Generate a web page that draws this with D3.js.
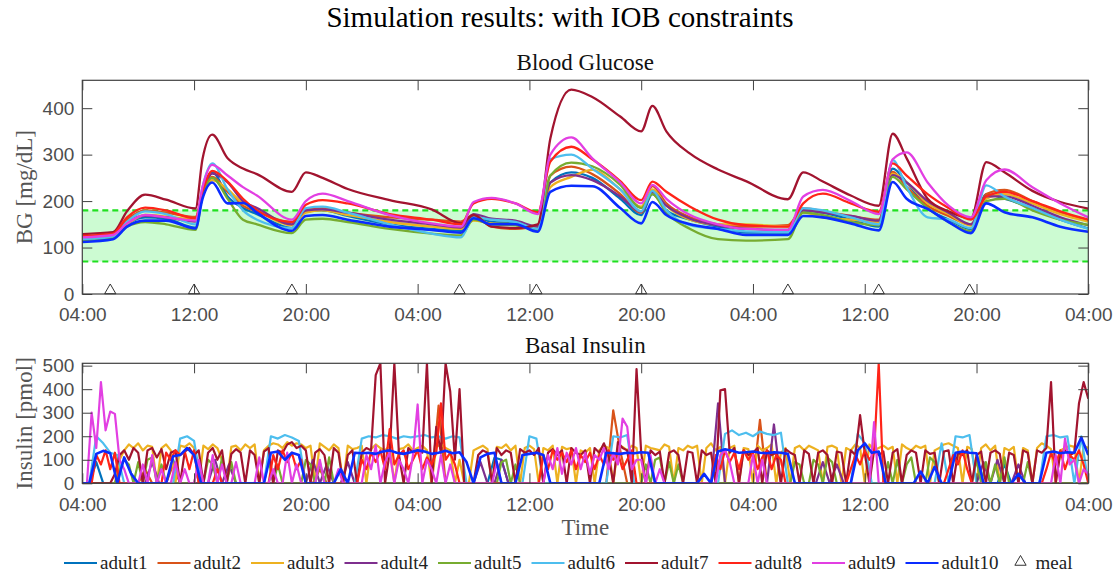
<!DOCTYPE html>
<html>
<head>
<meta charset="utf-8">
<script src="https://cdn.jsdelivr.net/npm/d3@7"></script>
<style>
  body { margin: 0; background: #fff; }
  .tick text { font-family: "Liberation Sans", Arial, sans-serif; font-size: 19px; fill: #4d4d4d; }
  .tick line { stroke: #404040; }
</style>
</head>
<body>
<script>
// ---- data ----
let names = ["adult1","adult2","adult3","adult4","adult5","adult6","adult7","adult8","adult9","adult10"];
let colors = ["#0072BD","#D95319","#EDB120","#7E2F8E","#77AC30","#4DBEEE","#A2142F","#FF2418","#E23FE2","#0A2CFF"];

// hours since 04:00 on day 1
let tickHours = [0, 8, 16, 24, 32, 40, 48, 56, 64, 72];
let tickLabels = ["04:00","12:00","20:00","04:00","12:00","20:00","04:00","12:00","20:00","04:00"];
let mealHours = [2, 8, 15, 27, 32.5, 40, 50.5, 57, 63.5];

// blood glucose sample times (h) and values (mg/dL)
let bgTimes = [0, 2.2, 3.2, 4.5, 6, 8.1, 8.6, 9.3, 10.4, 11.5, 12.5, 15.0, 16.0, 17.2, 19, 22, 25, 27.1, 28.0, 29.3,
  31, 32.6, 33.5, 35.0, 36.5, 38.5, 40.0, 40.8, 41.8, 43.5, 45.5, 47.5, 50.5, 51.6, 53.0, 55.0, 57.0, 58.0, 59.0, 60.5,
  62.0, 63.6, 64.7, 66.0, 68.0, 70.0, 72.0];
let bg1 = [114,120,150,165,162, 143,220,263,210,185, 172,142,178,180,168, 150,140,136,168,155, 152,140,240,262,250,
  205,170,215,180,160, 145,132,132,180,175, 160,145,270,240,185, 160,140,215,205,185, 160,141];
let bg2 = [124,129,160,180,175, 166,215,252,220,190, 178,154,182,184,175, 165,160,156,170,145, 140,148,255,274,258,
  215,175,232,195,165, 150,145,148,185,178, 168,160,263,230,190, 168,150,215,224,200, 175,159];
let bg3 = [120,126,150,170,167, 160,210,245,225,195, 180,148,175,180,170, 155,145,140,158,152, 150,142,230,252,267,
  225,188,225,190,160, 150,150,145,175,165, 160,155,259,240,195, 172,147,205,215,195, 172,156];
let bg4 = [121,127,155,168,165, 156,215,259,240,200, 185,150,180,182,175, 160,150,143,172,162, 158,145,240,256,245,
  210,177,220,190,162, 148,140,138,180,175, 168,158,256,240,200, 175,150,210,210,190, 165,148];
let bg5 = [116,121,145,155,150, 138,210,250,205,160, 150,131,160,162,155, 140,130,126,160,150, 148,138,255,283,275,
  235,185,215,175,140, 118,115,118,175,170, 155,148,252,225,185, 155,135,200,205,180, 160,149];
let bg6 = [118,124,155,178,172, 150,230,281,225,180, 160,142,185,188,175, 150,130,122,165,160, 155,140,290,300,270,
  225,178,222,180,148, 140,135,133,185,180, 165,150,288,230,165, 160,142,234,210,185, 160,140];
let bg7 = [129,133,178,214,203, 184,290,343,292,270, 258,220,262,250,226, 202,182,152,170,145, 142,150,335,440,424,
  382,350,405,350,302, 268,243,204,262,242, 212,190,345,292,205, 178,163,284,262,222, 198,184];
let bg8 = [125,130,165,186,180, 163,220,265,242,205, 180,155,192,202,195, 172,160,150,195,205, 195,176,285,317,290,
  243,202,242,220,188, 160,148,145,195,216, 195,177,281,255,215, 185,160,210,220,200, 178,160];
let bg9 = [122,127,152,170,165, 158,230,278,255,230, 212,160,200,216,200, 170,152,145,198,207, 195,172,300,337,292,
  240,195,235,205,170, 150,140,138,210,224, 200,172,290,305,240, 190,165,245,268,230, 195,165];
let bg10 = [112,118,145,158,158, 141,205,240,195,196, 175,136,168,170,160, 145,138,132,163,150, 150,134,220,233,232,
  185,152,198,170,150, 140,127,127,168,165, 152,137,241,205,183, 155,131,195,176,165, 145,134];

// basal insulin (pmol) from 04:00; 30-min samples (145 values)
let ins1 = [0,0,90,0,0,0,0,0, 0,0,0,0,0,100,0,0, 0,0,0,0,0,0,0,0, 0,0,0,0,0,0,0,0, 0,0,0,0,0,0,0,0, 0,0,0,0,0,0,0,0,
  0,0,0,0,0,0,0,0, 0,0,0,110,100,0,0,0, 0,0,0,0,0,0,0,0, 0,0,0,0,0,0,0,0, 0,0,0,0,0,0,0,0, 0,0,0,0,0,0,0,0,
  0,0,0,0,0,0,0,0, 0,0,0,0,0,0,0,0, 0,0,0,0,0,0,0,0, 0,0,0,0,0,0,0,0, 0,0,0,0,80,0,0,0, 0,0,0,0,0,0,0,0, 0];
let ins2 = [0,0,0,0,0,0,0,0, 0,60,0,0,0,80,0,0, 0,0,0,0,0,0,0,0, 0,0,0,0,0,0,0,0, 0,0,60,0,0,0,0,0, 0,0,0,0,0,0,0,0,
  0,0,0,330,0,0,0,0, 0,0,0,0,0,0,0,0, 0,0,0,0,0,0,0,0, 0,0,0,0,310,140,0,0, 0,0,0,0,0,0,0,0, 0,0,0,0,0,0,0,0,
  0,270,0,0,0,0,0,0, 0,0,0,0,0,0,0,0, 0,0,0,0,0,0,0,0, 0,0,0,0,0,0,0,0, 0,0,0,0,0,0,0,0, 0,0,0,0,0,0,0,0, 0];
let ins4 = [0,0,0,0,0,0,0,0, 0,0,90,0,0,0,0,0, 0,0,0,100,0,80,0,0, 0,0,0,0,0,0,0,0, 0,100,0,80,0,0,90,0, 0,0,0,0,0,0,0,0,
  0,0,0,0,0,0,0,0, 0,90,0,0,100,0,0,0, 0,0,0,0,0,0,0,0, 0,0,0,0,0,0,0,0, 0,0,0,0,0,0,0,0, 0,0,0,340,0,0,0,0,
  0,0,0,250,0,0,0,0, 0,0,90,0,80,0,0,0, 0,0,0,0,0,0,0,0, 0,0,0,0,0,0,0,0, 0,90,0,100,0,0,80,0, 0,0,0,0,0,0,0,0, 0];
let ins6 = [0,0,200,170,130,120,0,0, 0,0,0,0,0,0,190,200, 180,0,0,0,0,0,0,0, 0,0,0,200,190,205,195,180, 0,0,0,0,0,0,0,0,
  190,200,195,205,200,190,200,195, 200,205,195,200,190,200,195,0, 0,0,0,0,0,0,0,0, 200,190,0,0,0,0,0,0,
  0,0,0,0,200,195,205,0, 0,0,0,0,0,0,0,0, 0,0,0,0,210,225,205,215, 200,220,210,205,215,0,0,0, 0,0,0,0,0,0,0,210,
  170,0,0,0,0,0,0,0, 0,0,0,170,0,200,195,205, 0,0,0,0,0,0,0,0, 0,0,200,205,195,200,0,200, 0];
let ins10 = [0,0,125,138,128,0,110,40, 0,0,0,0,0,115,120,150, 120,0,0,0,0,0,0,0, 0,0,0,130,135,100,130,120, 0,0,0,0,0,60,0,130,
  128,130,125,135,140,130,125,132, 140,135,125,130,138,128,132,90, 0,110,125,130,0,0,0,120, 125,130,120,0,0,0,0,0,
  0,0,0,130,128,125,130,128, 132,130,0,0,0,0,0,0, 0,40,0,135,145,138,130,132, 135,130,128,132,130,125,0,0,
  0,0,0,0,0,0,0,140, 170,130,135,0,0,0,0,0, 50,0,70,0,0,130,135,130, 128,0,0,0,0,0,40,0, 0,0,130,135,128,132,130,195, 120];

// 20-min samples (217 values)
let ins3 = [0,0,0,0,0,0,0,0,100,140,165,150, 170,140,160,155,0,150,165,140,0,160,155,170,
  150,0,160,145,165,150,100,0,155,160,140,165, 150,165,0,140,160,170,165,150,175,160,170,165,
  150,160,0,170,155,140,165,150,0,160,145,150, 160,0,145,165,150,140,160,0,145,150,165,140,
  150,160,140,0,155,165,150,140,0,100,0,0, 140,150,160,145,0,155,150,165,140,160,0,150,
  160,145,0,150,140,160,0,155,145,150,0,140, 130,150,0,140,160,150,0,150,155,140,160,150,
  0,160,150,145,140,165,155,0,150,140,160,150, 160,0,150,170,140,155,0,150,160,0,150,145,
  0,160,140,150,165,0,130,150,0,150,160,140, 160,150,140,0,155,160,150,0,150,140,165,150,
  0,165,140,150,160,145,155,0,165,150,140,160, 150,160,0,140,150,165,170,160,150,0,155,145,
  0,150,165,140,160,0,150,140,155,0,150,140, 0,150,170,160,145,0,140,150,160,155,0,160, 150];
let ins5 = [0,0,0,0,0,0,0,0,60,100,80,0, 90,0,100,110,0,80,0,0,0,0,0,0, 0,90,0,100,80,0,110,0,90,0,0,0,
  0,0,0,0,100,0,80,0,0,0,0,0, 100,80,0,90,0,110,0,0,0,0,0,0, 0,0,0,0,0,0,0,0,0,0,0,0,
  0,0,0,0,0,0,0,0,0,0,0,0, 0,0,0,0,0,0,90,100,0,80,0,0, 0,0,0,0,0,0,0,0,0,0,0,0,
  0,0,0,0,0,0,0,0,0,0,0,0, 0,80,0,100,110,0,90,0,80,0,0,0, 0,0,0,0,0,0,0,0,0,0,0,0,
  0,0,0,0,0,0,0,0,0,90,80,0, 0,100,80,0,110,90,0,0,0,0,0,0, 0,0,0,0,0,90,0,100,0,80,110,0,
  0,0,110,90,0,0,0,0,0,0,0,0, 100,0,90,0,80,0,110,0,0,0,0,90, 0,0,0,0,0,0,0,0,0,0,0,0, 0];
let ins7 = [0,0,0,0,0,0,0,40,120,140,100,150, 130,0,140,150,110,145,60,130,140,0,135,150,
  120,140,0,130,150,100,140,0,125,145,130,0, 140,120,0,135,150,0,140,130,165,175,150,160,
  140,0,130,145,120,0,150,130,0,120,140,0, 130,150,140,460,510,0,130,510,120,0,150,130,
  140,130,510,0,240,130,510,390,100,400,0,0, 0,120,140,130,0,150,120,140,130,0,145,130,
  140,120,150,0,130,145,120,140,0,150,130,120, 140,0,150,130,170,120,0,175,150,140,0,485,
  130,0,140,120,135,0,130,140,120,0,135,130, 0,140,120,130,0,395,400,130,150,0,140,120,
  130,150,0,140,120,130,0,145,130,120,0,140, 125,0,130,140,120,0,135,130,0,140,120,290,
  130,0,140,120,135,0,130,145,0,120,140,130, 0,140,125,130,0,135,140,0,130,120,140,0,
  120,135,0,130,140,125,0,130,120,0,140,130, 0,140,130,150,430,0,130,140,120,130,340,430, 360];
let ins8 = [0,0,0,120,80,140,60,130,0,0,0,0, 0,0,0,0,0,0,130,100,140,120,135,60, 140,0,0,0,0,60,0,0,0,0,0,0,
  0,0,0,0,0,120,60,140,90,130,60,100, 0,0,0,0,0,0,0,0,0,0,0,0, 100,60,130,90,140,60,230,80,120,140,60,100,
  140,60,110,80,130,340,100,130,80,0,0,0, 0,0,0,0,0,0,0,0,0,0,0,0, 0,0,0,120,60,140,100,130,90,140,60,120,
  90,130,60,120,80,140,100,130,60,100,140,0, 0,0,0,0,0,0,0,0,0,0,0,0, 0,0,0,0,120,60,140,90,130,60,140,100,
  130,60,110,140,60,120,100,0,0,0,0,0, 0,0,0,0,0,0,0,0,0,60,120,80, 140,100,130,510,0,0,0,0,0,0,0,0,
  0,0,0,0,0,0,60,120,80,140,60,0, 0,0,0,0,0,0,0,0,0,0,0,0, 0,0,0,60,130,80,140,60,120,100,140,80, 0];
let ins9 = [0,0,300,150,430,225,305,295,100,60,0,0, 0,80,0,120,0,60,0,0,90,0,60,0, 0,100,0,0,120,0,80,0,0,90,0,0,
  0,0,110,0,0,60,0,0,130,0,80,0, 0,0,0,100,0,0,0,60,0,0,0,0, 0,120,60,160,0,90,130,0,100,60,0,120,
  335,0,100,60,0,120,0,80,0,0,0,0, 0,0,0,0,0,90,0,0,0,0,0,0, 0,0,0,0,120,60,150,40,130,80,150,60,
  130,40,120,100,150,60,130,80,275,240,60,100, 100,0,120,0,60,0,0,0,0,0,0,0, 0,0,0,0,0,120,140,90,0,0,0,0,
  120,0,100,0,0,0,0,0,0,0,0,0, 0,0,0,0,0,0,0,0,0,0,0,0, 0,0,260,0,0,0,0,0,0,0,0,0,
  0,0,0,0,0,0,0,0,0,0,0,0, 0,0,0,0,0,0,0,0,0,0,0,0, 0,0,0,0,0,120,0,190,80,100,0,60, 40];

let bgSeries = [bg1, bg2, bg3, bg4, bg5, bg6, bg7, bg8, bg9, bg10];
let insSeries = [ins1, ins2, ins3, ins4, ins5, ins6, ins7, ins8, ins9, ins10];
let insStep = [0.5, 0.5, 1/3, 0.5, 1/3, 0.5, 1/3, 1/3, 1/3, 0.5];   // hours between samples

// ---- layout ----
let width = 1119, height = 577;
let left = 82.3, right = 1088.3;
let serif = "'Liberation Serif', 'Times New Roman', serif";

let svg = d3.select("body").append("svg")
    .attr("width", width)
    .attr("height", height);

let xScale = d3.scaleLinear().domain([0, 72]).range([left, right]);
let bgScale = d3.scaleLinear().domain([0, 460]).range([294, 80.3]);
let insScale = d3.scaleLinear().domain([0, 510]).range([483.3, 363.3]);

// title
svg.append("text")
    .attr("x", 560).attr("y", 27)
    .attr("text-anchor", "middle")
    .style("font-family", serif).style("font-size", "29px").style("fill", "#000")
    .text("Simulation results: with IOB constraints");

function drawAxes(yScale, yTicks, top, bottom, title, titleY, ylabel) {
	let fmt = function(d, i) { return tickLabels[i]; };
	svg.append("g").attr("transform", "translate(0," + bottom + ")")
		.call(d3.axisBottom(xScale).tickValues(tickHours).tickFormat(fmt).tickSizeInner(-10).tickSizeOuter(0).tickPadding(14))
		.call(g => g.select(".domain").remove());
	svg.append("g").attr("transform", "translate(0," + top + ")")
		.call(d3.axisTop(xScale).tickValues(tickHours).tickFormat("").tickSizeInner(-10).tickSizeOuter(0))
		.call(g => g.select(".domain").remove());
	svg.append("g").attr("transform", "translate(" + left + ",0)")
		.call(d3.axisLeft(yScale).tickValues(yTicks).tickSizeInner(-10).tickSizeOuter(0).tickPadding(8))
		.call(g => g.select(".domain").remove());
	svg.append("g").attr("transform", "translate(" + right + ",0)")
		.call(d3.axisRight(yScale).tickValues(yTicks).tickFormat("").tickSizeInner(-10).tickSizeOuter(0))
		.call(g => g.select(".domain").remove());
	svg.append("rect")
		.attr("x", left).attr("y", top)
		.attr("width", right - left).attr("height", bottom - top)
		.attr("fill", "none").attr("stroke", "#404040").attr("stroke-width", 1.2);
	svg.append("text")
		.attr("x", (left + right) / 2).attr("y", titleY)
		.attr("text-anchor", "middle")
		.style("font-family", serif).style("font-size", "23px").style("fill", "#111")
		.text(title);
	svg.append("text")
		.attr("transform", "translate(32," + ((top + bottom) / 2) + ") rotate(-90)")
		.attr("text-anchor", "middle")
		.style("font-family", serif).style("font-size", "23px").style("fill", "#555")
		.text(ylabel);
}

// clip paths
let defs = svg.append("defs");
defs.append("clipPath").attr("id", "clipBG").append("rect")
	.attr("x", left).attr("y", 80.3).attr("width", right - left).attr("height", 294 - 80.3);
defs.append("clipPath").attr("id", "clipIns").append("rect")
	.attr("x", left).attr("y", 363.3).attr("width", right - left).attr("height", 483.3 - 363.3);

// ---- Blood glucose panel ----
let bgPanel = svg.append("g").attr("clip-path", "url(#clipBG)");

bgPanel.append("rect")
	.attr("x", left).attr("y", bgScale(180))
	.attr("width", right - left).attr("height", bgScale(70) - bgScale(180))
	.attr("fill", "#ccfbd2");

[70, 180].forEach(function(v) {
	bgPanel.append("line")
		.attr("x1", left).attr("x2", right)
		.attr("y1", bgScale(v)).attr("y2", bgScale(v))
		.attr("stroke", "#1fe01f").attr("stroke-width", 2.2)
		.attr("stroke-dasharray", "6,4");
});

let bgLine = d3.line()
	.curve(d3.curveMonotoneX)
	.x(function(d, i) { return xScale(bgTimes[i]); })
	.y(function(d) { return bgScale(d); });

bgSeries.forEach(function(s, k) {
	bgPanel.append("path")
		.datum(s)
		.attr("fill", "none")
		.attr("stroke", colors[k])
		.attr("stroke-width", k == 9 ? 2.6 : 2.3)
		.attr("d", bgLine);
});

drawAxes(bgScale, [0, 100, 200, 300, 400], 80.3, 294, "Blood Glucose", 70, "BG [mg/dL]");

// meal markers
let tri = d3.symbol().type(d3.symbolTriangle).size(55);
svg.selectAll(".meal")
	.data(mealHours)
	.enter().append("path")
		.attr("class", "meal")
		.attr("transform", function(d) { return "translate(" + xScale(d) + "," + 290.5 + ")"; })
		.attr("d", tri)
		.attr("fill", "none")
		.attr("stroke", "#333")
		.attr("stroke-width", 1);

// ---- Basal insulin panel ----
let insPanel = svg.append("g").attr("clip-path", "url(#clipIns)");

insSeries.forEach(function(s, k) {
	let insLine = d3.line()
		.x(function(d, i) { return xScale(i * insStep[k]); })
		.y(function(d) { return insScale(d); });
	insPanel.append("path")
		.datum(s)
		.attr("fill", "none")
		.attr("stroke", colors[k])
		.attr("stroke-width", k == 9 ? 2.6 : 2.2)
		.attr("stroke-linejoin", "round")
		.attr("d", insLine);
});

drawAxes(insScale, [0, 100, 200, 300, 400, 500], 363.3, 483.3, "Basal Insulin", 353, "Insulin [pmol]");

svg.append("text")
	.attr("x", (left + right) / 2).attr("y", 535)
	.attr("text-anchor", "middle")
	.style("font-family", serif).style("font-size", "23px").style("fill", "#555")
	.text("Time");

// ---- legend ----
let legend = svg.append("g");
let lx = 64;
names.forEach(function(n, k) {
	legend.append("line")
		.attr("x1", lx).attr("x2", lx + 33)
		.attr("y1", 563).attr("y2", 563)
		.attr("stroke", colors[k]).attr("stroke-width", 2);
	let t = legend.append("text")
		.attr("x", lx + 36).attr("y", 569)
		.style("font-family", serif).style("font-size", "19px").style("fill", "#222")
		.text(n);
	lx += 36 + t.node().getComputedTextLength() + 10;
});
legend.append("path")
	.attr("transform", "translate(" + (lx + 12) + ",562)")
	.attr("d", tri)
	.attr("fill", "none").attr("stroke", "#333").attr("stroke-width", 1);
legend.append("text")
	.attr("x", lx + 27).attr("y", 569)
	.style("font-family", serif).style("font-size", "19px").style("fill", "#222")
	.text("meal");
</script>
</body>
</html>
